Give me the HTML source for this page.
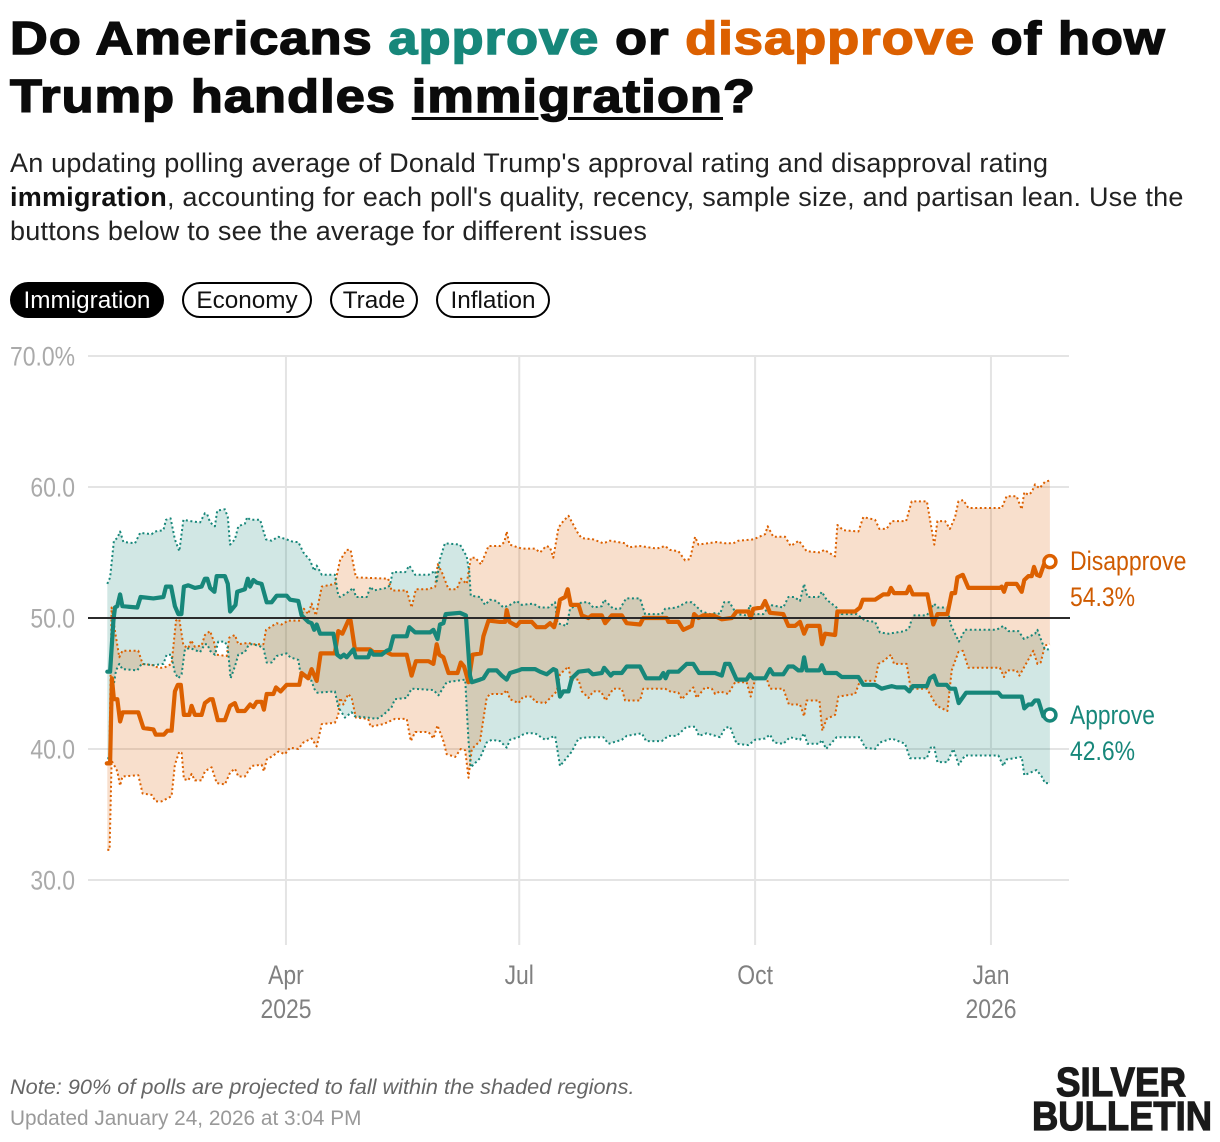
<!DOCTYPE html>
<html lang="en">
<head>
<meta charset="utf-8">
<title>Trump immigration approval</title>
<style>
html,body{margin:0;padding:0;background:#fff}
body{width:1220px;height:1142px;position:relative;overflow:hidden;font-family:"Liberation Sans",sans-serif;color:#111}
.abs{position:absolute;white-space:nowrap}
#headline{left:10px;top:9px;font-size:46px;line-height:58px;font-weight:700;letter-spacing:1px;-webkit-text-stroke:1.5px currentColor;color:#0b0b0b;transform:scaleX(1.135);transform-origin:left top}
#headline .ap{color:#17877a}
#headline .dis{color:#dc6000}
#headline u{text-decoration-thickness:3px;text-underline-offset:5px}
#subhead{left:10px;top:146px;font-size:27px;line-height:34px;letter-spacing:.22px;color:#222}
#subhead b{color:#111}
.pill{position:absolute;top:282px;height:36px;box-sizing:border-box;border:2px solid #000;border-radius:18px;background:#fff;color:#111;font:24.3px/34px "Liberation Sans",sans-serif;text-align:center;padding:0;cursor:pointer}
.pill.on{background:#000;color:#fff}
#note{left:10px;top:1074px;font-size:21.7px;line-height:26px;font-style:italic;color:#666}
#updated{left:10px;top:1106px;font-size:20.8px;line-height:26px;color:#999}
#chart{position:absolute;left:0;top:0}
</style>
</head>
<body>
<div id="headline" class="abs">Do Americans <span class="ap">approve</span> or <span class="dis">disapprove</span> of how<br>Trump handles <u>immigration</u>?</div>
<div id="subhead" class="abs">An updating polling average of Donald Trump's approval rating and disapproval rating<br><b>immigration</b>, accounting for each poll's quality, recency, sample size, and partisan lean. Use the<br>buttons below to see the average for different issues</div>
<button class="pill on" style="left:10px;width:154px">Immigration</button>
<button class="pill" style="left:182px;width:130px">Economy</button>
<button class="pill" style="left:330px;width:88px">Trade</button>
<button class="pill" style="left:436px;width:114px">Inflation</button>
<svg id="chart" width="1220" height="1142" viewBox="0 0 1220 1142"></svg>
<div id="note" class="abs">Note: 90% of polls are projected to fall within the shaded regions.</div>
<div id="updated" class="abs">Updated January 24, 2026 at 3:04 PM</div>
<script>
// Days are counted from 2025-01-21; values are percentages.
const yTicks = [70, 60, 50, 40, 30];
const yTickLabels = ["70.0%", "60.0", "50.0", "40.0", "30.0"];
const xTickDays = [70, 161, 253, 345];
const xTickMonths = ["Apr", "Jul", "Oct", "Jan"];
const xTickYears = ["2025", "", "", "2026"];
const referenceValue = 50;
const lastDay = 368;
const approveLatest = 42.6;
const disapproveLatest = 54.3;

const approveDays = [
0.3,1.4,2.7,3.3,4.2,5.3,6.2,12,13.3,18.3,
22.2,23.2,25.2,26.7,28,29.2,30.2,31.9,34.5,37.1,
38.4,39.3,40.4,42.1,43,46.2,47.3,48.2,50.3,51,
54,55.1,56,57.3,58.6,60.5,62.5,64.4,66.4,70.3,
71.6,74.8,76.1,78.7,80,81,82,83.3,88.5,90,
91.3,92.6,93.7,96.3,97.3,102.1,103,104.1,107.3,109.3,
110.6,111.9,117.1,118.1,120.4,126.2,127.5,129.1,130.1,131.4,
132.3,137.9,140.2,141.8,142.5,145.7,147,149,152.2,154.2,
156.1,157.4,160.7,162,167.2,169.1,171.7,174.3,175.4,176.9,
178.2,180.2,181.5,184.1,188,189.7,193.2,194.1,196.7,197.7,
201,202.9,208.1,210.5,215.9,217.2,218.1,219.2,223.1,226.3,
228.9,231.1,237.4,240,241.3,243,245.8,249.7,251,252.3,
256.9,258.8,260.1,264,266,267.9,269.9,271.2,272.1,273.1,
278.1,279,280.3,284.8,286.8,293.3,295.2,299.8,302.4,304.3,
306.3,308.2,311.5,313.2,314.5,320,321.2,322.8,324.1,327.7,
329,331,332.4,335.3,347.9,349.2,357,358,359.6,360.9,
362.2,363.5,365.4,368];
const approveValues = [
45.9,45.9,49.8,50.8,50.9,51.8,50.9,50.8,51.6,51.5,
51.6,52.4,52.4,50.9,50.3,50.3,52.4,52.5,52.3,52.4,
53,53,52.3,52,53.2,53.2,52.6,50.5,51,52,
52.2,53,52.4,52.9,52.7,52.6,51.2,51.2,51.7,51.7,
51.4,51.3,50.2,49.7,49.6,49.1,49.5,48.8,48.8,47.2,
47,47.2,47,47.6,47,47,47.5,47.2,47.2,47.5,
47.6,48.6,48.6,49.3,48.9,48.9,49.1,48.4,49.5,49.6,
50.3,50.4,50.2,45.6,45.1,45.3,45.4,46,46,45.6,
45.3,45.8,46,46.1,46.1,45.9,45.7,46.1,46,44,
44.4,44.4,45.4,45.9,46,45.7,45.8,46.2,45.6,45.8,
45.8,46.3,46.3,45.4,45.4,45.8,45.4,45.9,45.9,46.5,
46.5,45.8,45.8,45.6,46.5,46.5,45.3,45.3,45.7,45.4,
45.4,46.1,45.7,45.7,46.3,46.3,46,46,47,46,
46,46.4,45.8,45.8,45.5,45.5,44.9,44.9,44.6,44.7,
44.8,44.7,44.7,44.4,44.8,44.8,45.4,45.6,44.9,44.9,
44.6,44.6,43.5,44.3,44.3,44,44,43.1,43.4,43.4,
43.7,43.7,42.5,42.6];

const disapproveDays = [
0.1,1.4,2.1,2.9,4.2,5.3,6.3,12.4,14.4,18.3,
19.2,22.4,23.7,25.4,26.7,27.8,29,30.2,32.3,33.2,
34.5,37.1,38.4,40.4,41.4,43.4,46.2,48.2,50.1,51.2,
54,56,57.3,58.6,60.5,61.4,62.5,65.1,66.1,67.9,
70.3,75.2,76.1,78.7,80,82,83.5,89.1,90.4,92,
94.3,95.2,96.9,102.8,104.1,109.3,111.2,117.1,119,120.7,
125.6,127.5,128.8,129.8,131.4,133.4,136.9,138.2,139.5,141.2,
142.8,146,147,149,153.5,155.5,156.1,157.2,160,161.3,
165.9,167.8,171.1,173,174.6,175.6,176.9,178.9,179.9,181.1,
184.1,185.4,188,189.3,193.2,194.5,197.1,201,202.9,208.1,
209.4,218.5,219.2,223.1,225,228.3,229.2,230.9,232.8,236.7,
240,243.9,245.8,250.4,251.3,252.3,255.6,256.9,258.8,264,
266,268.6,270.5,272.1,273.4,278.1,279.1,280.3,284.2,285.1,
292,293.9,295,299.8,303,305,306,307.2,312.1,313.2,
314.5,320.2,322.5,324.1,328,329.7,331,331.9,334,336.2,
348.5,349.2,350.1,351.1,355,357,358,359.6,360.9,361.8,
362.9,364.1,365.7,368];
const disapproveValues = [
38.9,38.9,45.4,43.8,43.8,42.1,42.8,42.8,41.6,41.5,
41.1,41.1,41.4,41.4,44.4,44.9,44.9,42.6,42.6,43.3,
42.6,42.6,43.5,43.8,43.8,42.2,42.2,43.3,43.5,42.9,
42.9,43.4,43.2,43.6,43.6,43,44.2,44.2,44.7,44.4,
44.9,44.9,45.8,45.4,46.1,45.2,47.3,47.3,49,48.8,
49.8,49.8,47.6,47.6,47.4,47.4,47.2,47.2,45.6,46.7,
46.7,46.5,48,47.2,47,45.8,45.8,46.6,46.3,45.1,
47.2,47.3,48.6,49.8,49.7,49.7,50.6,49.7,49.4,49.7,
49.7,49.3,49.3,49.6,49.3,50,51.4,51.6,52.2,51,
51,50.2,50,50.2,50.2,49.6,50.2,50.2,49.6,49.5,
50,50,49.7,49.7,49.1,49.4,50.3,50,50.2,50.2,
49.9,50,50.5,50.5,50,50.7,50.8,51.3,50.4,50.3,
49.4,49.4,49.7,48.8,49.4,49.4,48,48.8,48.7,50.5,
50.5,50.8,51.4,51.4,51.8,51.8,52.3,51.9,51.9,52.4,
51.8,51.8,49.5,50.3,50.3,51.9,51.9,53.1,53.3,52.3,
52.3,52.4,52,52.6,52.6,52,52.9,53.2,53.2,53.9,
53.3,53.2,54.1,54.3];

const approveUpperDays = [
0.3,1.4,2.9,4.2,5.3,6.6,11.1,13.1,17.6,18.9,
22.2,23.2,25,26.7,28.4,30,32.6,36.5,38.4,39.3,
40.4,42.3,43.2,46.2,47.3,48.2,50.1,51.4,54,54.9,
56,59.9,62.2,64.4,67,70.3,72.9,74.8,76.8,79.4,
81,82,84,89.1,90.4,91.1,93.7,96.3,97.3,101.5,
103,104.1,109.3,110.6,111.6,116.5,118.1,120.4,125.6,128.2,
128.8,130.1,132,137.9,140.5,141.5,142.1,145.7,147.7,149.6,
152.2,154.8,157.4,160,162,166.5,169.1,172.4,175,175.9,
179.5,180.8,185.4,188,189.9,193.2,194.1,197.7,200.3,202.7,
208.1,210.1,216.6,217.9,222.4,226.3,228.3,232.2,235.4,238,
239.3,240.9,243,245.8,249.7,251,252.3,256.2,258.8,264,
266,268.2,270.5,272.1,273.4,277.7,279,280.9,284.8,286.8,
292.6,295.9,299.8,301.7,305,311.5,313.2,314.5,320,322.8,
324.1,328,329.3,331,332.5,334.9,347.2,349.8,351.8,355.7,
357.9,360.2,362.2,363.1,364.8,366.1,368];
const approveUpperValues = [
52.6,53.1,55.9,56.1,56.6,55.8,55.7,56.5,56.4,56.6,
56.7,57.5,57.6,56,55.1,57.5,57.4,57.3,58,57.9,
57.3,57,58.2,58.3,57.7,55.6,56,57,57.2,57.7,
57.5,57.5,56,55.9,56.2,56,55.8,55.8,55,54.4,
53.6,54,53.3,53.3,51.7,51.6,51.9,52.3,51.6,51.6,
52.4,52.1,52.3,52.5,53.5,53.5,54,53.3,53.3,53.6,
52.8,54.5,55.7,55.6,54.7,53.5,51.7,51.6,51,51.4,
51.3,50.8,51,51.3,51,51.1,50.8,50.8,51.2,49.6,
49.4,50.7,51.2,51.2,50.8,50.9,51.4,50.7,50.7,51.5,
51.5,50.3,50.3,50.7,50.8,51.2,51.2,50.5,50.3,50.4,
50.3,51.2,51.2,50.3,50.2,51,50.3,50.3,51,50.8,
51.6,51.6,51.3,52.6,51.6,51.6,52,51.4,50.8,50.3,
50.3,49.8,49.7,48.9,48.8,49,49.3,50.2,50.2,51.1,
50.8,50.8,49.5,48.8,48.2,49.1,49.1,49.4,49,49,
48.4,48.6,48.8,49.1,48.2,47.6,47.6];

const approveLowerDays = [
0.3,1.4,2.4,3.7,5,6.2,12,13.7,18.3,22.2,
23.5,25.2,26.7,28,29.3,30.6,32.6,36.5,38.4,39.3,
40.4,42.3,43.6,46.2,47.3,48.4,50.1,51.4,54,55.3,
56.6,59.2,61.2,62.5,64.4,66.4,70.3,71.6,74.8,75.7,
78.1,80,81,82.2,89.1,90.4,93,95.6,96.9,102.1,
105.4,108,111.2,112.5,117.1,119,127.5,129.5,132.7,139.9,
141.2,142.1,145.7,148.3,150.3,153.5,156.1,157.4,160.7,163.3,
167.2,171.1,175,176.9,181.5,184.1,188,193.8,195.8,201,
202.9,208.8,210.5,216.6,219.2,222.4,226.3,229.6,231.1,234.1,
239.3,241.3,243.2,245.8,250.4,253,256.9,258.8,260.4,264,
266.6,270.5,272.1,273.4,278.1,279,280.7,284.8,293.9,295.9,
299.8,301.7,306.3,311.5,313.4,320,321.5,322.8,324.1,328,
330.3,332.4,334.9,347.9,349.8,351.1,357,358,362.8,364.8,
366.1,368];
const approveLowerValues = [
39.3,39.3,44.4,46,46.5,46.1,46,46.5,46.4,46.5,
47.2,47.2,45.8,45.4,45.7,47.6,47.7,47.4,48,48,
47.5,47.2,48.2,48.2,47.7,45.4,46.3,47.2,47.4,47.9,
48,47.9,47.7,46.6,46.6,47.1,47.3,47,46.8,45.7,
45.4,45.2,44.6,44.3,44.4,43.2,42.4,42.8,42.5,42.4,
42.3,42.6,43.2,43.8,43.9,44.6,44.5,44.1,45.1,45.3,
40.6,38.6,39.3,40.5,40.7,40.6,40.1,40.7,40.9,41.2,
41.2,40.7,41,38.7,39.8,40.8,40.9,40.9,40.4,40.7,
41,41.2,40.6,40.6,41,41,41.7,41.7,41,41.2,
40.9,41.6,41.7,40.4,40.3,40.7,40.8,41.1,40.5,40.4,
40.9,40.7,41.2,40.4,40.4,40.7,40,40.9,40.9,40.1,
40,40.5,40.8,40.4,39.3,39.3,40.1,40.2,39,39,
40,38.8,39.5,39.5,38.7,39.2,39.4,38,38.4,37.9,
37.4,37.4];

const disapproveUpperDays = [
0.3,1.1,2,3.3,5,6.2,12.4,14.1,18.3,20.2,
22.4,25.4,27.1,28.4,30,31.9,33,34.5,37.1,38.4,
40.4,41.9,43,46.9,47.9,50.1,51.4,55.3,57.3,61.2,
62.2,66.4,68.3,70.9,75.5,77,78.7,80,81.7,84,
89.1,91.1,93.7,95.2,97.3,109.9,111.2,117.1,119,120.7,
125.6,128.2,129.2,130.8,133.4,136.6,138.3,140.5,142.1,143.8,
146.1,149,153.5,155.2,156.1,157.2,162,167.2,169.1,171.5,
173,174.3,176.3,178.2,180.2,184.1,185.4,189.9,193.8,196.4,
202.3,203.6,208.1,214.6,217.9,219.8,223.1,225.7,227.6,229.6,
230.9,238,241.3,244.5,246.5,252.3,256.9,257.9,260.1,264.7,
266.9,270.1,273.1,278.3,280,284.2,285.1,287.4,293.3,295.2,
299.8,301.5,304.3,306.3,311.9,314.1,320,321.5,322.9,324.1,
327.1,329,331,332.3,334.2,336.2,349.2,351.1,355,357,
358,359.6,360.9,362.2,363.9,366.1,368];
const disapproveUpperValues = [
39,39,50.8,49,47,47.5,47.5,46.5,46.4,46.2,
46.2,46.5,49.8,49.9,47.9,47.7,48.3,47.8,47.9,48.7,
49,48.2,47.2,47.1,48.5,48.7,48,48.1,48,48,
49.1,49.6,49.5,49.8,49.8,50.7,50.3,51.1,50.2,52.4,
52.6,54.4,55.2,55.2,53.1,53,52.1,52.1,50.8,52.2,
52.2,52.4,54.1,53.5,52.2,52.2,53,52.6,54.6,54.6,
54.1,55.5,55.5,55.8,56.6,55.6,55.3,55.3,55,55.5,
55.4,54.6,56.9,57.4,57.8,56.4,56.1,56,55.7,55.9,
55.7,55.4,55.5,55.3,55.5,55.2,55.1,54.4,54.5,56.2,
55.6,55.8,55.7,55.7,55.9,56,56.4,57,56.2,56.2,
55.5,55.9,55.1,55,55.2,54.7,57.1,56.7,56.6,57.7,
57.5,56.8,56.8,57.4,57.4,58.9,58.9,57.2,55.6,57.4,
57.4,56.8,57.7,58.9,59,58.4,58.4,59.3,59.3,58.3,
59.6,59.4,59.6,60.2,59.9,60.4,60.5];

const disapproveLowerDays = [
0.3,1.2,2,2.9,4.2,5.3,6.2,12.4,14.1,17.6,
19.2,21.5,25.4,26.7,28.4,29.3,30.2,31.9,33.2,34.5,
37.1,38.4,41,43,46.2,48.2,50.1,51.4,54,56.6,
60.5,61.4,62.5,65.1,67,69.6,71.6,74.8,76.8,80,
82,84,89.1,90.4,91.1,92.4,94.3,95.6,97.3,102.1,
103,108,112.5,117.1,118.7,120.4,125.6,127.5,129.1,131.4,
132.7,136,138.2,139.9,141.2,142.5,145.7,148.3,149.6,154.8,
156.1,157.4,160.7,162.6,165.9,167.2,171.1,175.6,176.9,180.2,
181.1,184.1,185.4,188,189.9,192.9,194.7,197.7,201,202.3,
208.1,209.4,217.9,219.8,223.1,224.4,228.9,230.2,233.5,236.1,
237.4,239.3,242.5,245.2,249.7,251.3,253,257.5,258.8,264,
266.2,270.5,272.1,273.1,278.1,279.2,280.9,284.2,285.5,292,
293.9,299.8,301.1,303,306,307.2,312.1,313.7,320,323.8,
328,329.7,332.3,334,336.2,348.5,350.1,351.1,355,356.1,
361.5,363.1,364.4,366.1,368];
const disapproveLowerValues = [
32.3,32.3,39.1,38.8,38.3,37.2,37.9,38,36.6,36.5,
36,36,36.4,38.8,39.8,39.7,37.7,37.6,38.1,37.6,
37.6,38.3,38.6,37.4,37.3,38.2,38.5,37.9,37.9,38.7,
38.8,38.3,39.2,39.5,39.8,39.6,40.1,40,40.5,40.8,
40.2,41.9,42,42.6,43.9,43.4,44.2,43.9,42.4,42.3,
41.7,41.9,42.3,42.3,40.6,41.3,41.3,40.8,41.8,40.6,
39.6,39.4,40,39.9,37.8,40,40.6,43.9,44.2,44.2,
44.5,43.8,43.5,44,44,43.6,43.5,44.4,45.7,46.3,
45.3,45.3,44.4,43.9,44.4,44.4,43.7,44.6,44.6,43.7,
43.7,44.6,44.6,44.4,44.3,43.8,44.7,43.9,44.7,44.6,
44.2,44.4,44.2,45.1,45.1,44,45.3,45.4,44.6,44.6,
43.4,43.4,42.5,43.7,43.7,41.4,42.3,42.6,44,44.2,
45.2,45.2,46.5,46.7,47.2,46.5,46.5,44.6,44.6,43.3,
42.9,46,47.4,47.5,46.2,46.2,45.5,46,46,45.6,
47.5,46.5,46.6,47.9,48];

const TEAL = "#17877a";
const ORANGE = "#dc6000";
const SVG_NS = "http://www.w3.org/2000/svg";
const svg = document.getElementById("chart");

function xScale(day) { return 106.5 + day * (991 - 286) / (345 - 70); }
function yScale(value) { return 618 - (value - 50) * 13.1; }

function make(tag, attrs) {
  const el = document.createElementNS(SVG_NS, tag);
  for (const k in attrs) el.setAttribute(k, attrs[k]);
  svg.appendChild(el);
  return el;
}
function linePoints(days, values) {
  const out = [];
  const n = Math.min(days.length, values.length);
  for (let i = 0; i < n; i++) out.push(xScale(days[i]).toFixed(1) + "," + yScale(values[i]).toFixed(1));
  return out;
}
function label(text, x, y, anchor, fill, size, sx) {
  const el = make("text", {
    transform: "translate(" + x + "," + y + ") scale(" + sx + ",1)",
    "text-anchor": anchor,
    fill: fill,
    "font-family": '"Liberation Sans", sans-serif',
    "font-size": size
  });
  el.textContent = text;
  return el;
}

// Horizontal grid and y labels
yTicks.forEach(function (tick, i) {
  const grid = make("line", { x1: 88, x2: 1069, y1: yScale(tick), y2: yScale(tick), stroke: "#e4e4e4", "stroke-width": 2 });
  
  
  const t = label(yTickLabels[i], 75, yScale(tick) + 9.5, "end", "#aaaaaa", 27, 0.85);
  
  
});

// Vertical grid and x labels
xTickDays.forEach(function (day, i) {
  const grid = make("line", { x1: xScale(day), x2: xScale(day), y1: 356, y2: 945, stroke: "#e4e4e4", "stroke-width": 2 });
  
  
  const m = label(xTickMonths[i], xScale(day), 984, "middle", "#808080", 27, 0.85);
  
  
  if (xTickYears[i]) {
    const y = label(xTickYears[i], xScale(day), 1018, "middle", "#808080", 27, 0.85);
    
    
  }
});

// Shaded bands
const aBandPts = linePoints(approveUpperDays, approveUpperValues).concat(linePoints(approveLowerDays, approveLowerValues).reverse());
const aBand = make("polygon", { points: aBandPts.join(" "), fill: TEAL, "fill-opacity": 0.2 });


const dBandPts = linePoints(disapproveUpperDays, disapproveUpperValues).concat(linePoints(disapproveLowerDays, disapproveLowerValues).reverse());
const dBand = make("polygon", { points: dBandPts.join(" "), fill: ORANGE, "fill-opacity": 0.2 });



// Dotted band edges
function dotted(days, values, color) {
  return make("polyline", { points: linePoints(days, values).join(" "), fill: "none", stroke: color, "stroke-width": 2, "stroke-dasharray": "2 2.6", "stroke-linejoin": "round" });
}
const dU = dotted(disapproveUpperDays, disapproveUpperValues, ORANGE);


const dL = dotted(disapproveLowerDays, disapproveLowerValues, ORANGE);


const aU = dotted(approveUpperDays, approveUpperValues, TEAL);


const aL = dotted(approveLowerDays, approveLowerValues, TEAL);



// Main lines
function mainLine(days, values, color) {
  return make("polyline", { points: linePoints(days, values).join(" "), fill: "none", stroke: color, "stroke-width": 4.2, "stroke-linejoin": "round", "stroke-linecap": "round" });
}
const dLine = mainLine(disapproveDays, disapproveValues, ORANGE);


const aLine = mainLine(approveDays, approveValues, TEAL);



// 50% reference line
const refLine = make("line", { x1: 88, x2: 1070, y1: yScale(referenceValue), y2: yScale(referenceValue), stroke: "#2b2b2b", "stroke-width": 2 });



// End markers
const dDot = make("circle", { cx: xScale(lastDay), cy: yScale(disapproveLatest), r: 6, fill: "#fff", stroke: ORANGE, "stroke-width": 3.5 });


const aDot = make("circle", { cx: xScale(lastDay), cy: yScale(approveLatest), r: 6, fill: "#fff", stroke: TEAL, "stroke-width": 3.5 });



// Direct labels
const dName = label("Disapprove", 1070, 570, "start", "#cf5b00", 27, 0.853);


const dVal = label(disapproveLatest.toFixed(1) + "%", 1070, 606, "start", "#cf5b00", 27, 0.85);


const aName = label("Approve", 1070, 724, "start", TEAL, 27, 0.845);


const aVal = label(approveLatest.toFixed(1) + "%", 1070, 760, "start", TEAL, 27, 0.85);



// Logo wordmark
function logo(text, x, y, len) {
  return make("text", { x: x, y: y, textLength: len, lengthAdjust: "spacingAndGlyphs", fill: "#1a1a1a", stroke: "#1a1a1a", "stroke-width": 1.2, "font-family": '"Liberation Sans", sans-serif', "font-weight": 700, "font-size": 41 });
}
const logo1 = logo("SILVER", 1056, 1096, 130);
logo1.textContent = "SILVER";


const logo2 = logo("BULLETIN", 1032, 1130, 180);
logo2.textContent = "BULLETIN";


</script>
</body>
</html>
